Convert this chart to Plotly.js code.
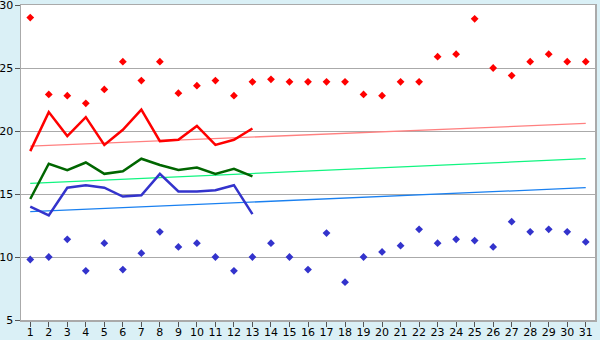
<!DOCTYPE html>
<html>
<head>
<meta charset="utf-8">
<script src="https://cdn.plot.ly/plotly-3.0.1.min.js"></script>
<style>html,body{margin:0;padding:0;background:#daf0f6;}#chart{width:600px;height:340px;}</style>
</head>
<body>
<div id="chart"></div>
<script>
const days = Array.from({length: 31}, (_, i) => i + 1);
const dailyMax = [29.0, 22.9, 22.8, 22.2, 23.3, 25.5, 24.0, 25.5, 23.0, 23.6,
                  24.0, 22.8, 23.9, 24.1, 23.9, 23.9, 23.9, 23.9, 22.9, 22.8,
                  23.9, 23.9, 25.9, 26.1, 28.9, 25.0, 24.4, 25.5, 26.1, 25.5, 25.5];
const dailyMin = [9.8, 10.0, 11.4, 8.9, 11.1, 9.0, 10.3, 12.0, 10.8, 11.1,
                  10.0, 8.9, 10.0, 11.1, 10.0, 9.0, 11.9, 8.0, 10.0, 10.4,
                  10.9, 12.2, 11.1, 11.4, 11.3, 10.8, 12.8, 12.0, 12.2, 12.0, 11.2];
const obsDays = days.slice(0, 13);
const lineMax = [18.4, 21.5, 19.6, 21.1, 18.9, 20.1, 21.7, 19.2, 19.3, 20.4, 18.9, 19.3, 20.2];
const lineMean = [14.6, 17.4, 16.9, 17.5, 16.6, 16.8, 17.8, 17.3, 16.9, 17.1, 16.6, 17.0, 16.4];
const lineMin = [14.0, 13.3, 15.5, 15.7, 15.5, 14.8, 14.9, 16.6, 15.2, 15.2, 15.3, 15.7, 13.4];
const trendDays = [1, 31];
const trendMax = [18.8, 20.6];
const trendMean = [15.85, 17.8];
const trendMin = [13.6, 15.5];
const yTicks = [5, 10, 15, 20, 25, 30];

const traces = [
  {x: trendDays, y: trendMax, mode: 'lines', line: {color: '#ff8080', width: 1.3}, hoverinfo: 'skip'},
  {x: trendDays, y: trendMean, mode: 'lines', line: {color: '#11f580', width: 1.3}, hoverinfo: 'skip'},
  {x: trendDays, y: trendMin, mode: 'lines', line: {color: '#1a80f0', width: 1.3}, hoverinfo: 'skip'},
  {x: days, y: dailyMax, mode: 'markers', marker: {symbol: 'diamond', size: 6, color: '#ff0000'}},
  {x: days, y: dailyMin, mode: 'markers', marker: {symbol: 'diamond', size: 6, color: '#3333cc'}},
  {x: obsDays, y: lineMax, mode: 'lines', line: {color: '#ff0000', width: 2.5}},
  {x: obsDays, y: lineMean, mode: 'lines', line: {color: '#006600', width: 2.5}},
  {x: obsDays, y: lineMin, mode: 'lines', line: {color: '#3333cc', width: 2.5}}
];

const layout = {
  width: 600, height: 340,
  margin: {l: 21, r: 5, t: 5, b: 20, pad: 0},
  paper_bgcolor: '#daf0f6',
  plot_bgcolor: '#ffffff',
  showlegend: false,
  font: {family: 'DejaVu Sans, Verdana, sans-serif', size: 11, color: '#000000'},
  xaxis: {
    range: [0.5, 31.5], tickvals: days, ticktext: days.map(String),
    showgrid: false, zeroline: false,
    showline: true, linecolor: '#aaaaaa', linewidth: 1.5, mirror: true,
    ticks: 'outside', ticklen: 5, tickcolor: '#555555', tickwidth: 1,
    ticklabelstandoff: -4, ticklabeloverflow: 'allow',
    tickfont: {size: 11}
  },
  yaxis: {
    range: [5, 30], tickvals: yTicks, ticktext: yTicks.map(String),
    showgrid: true, gridcolor: '#aaaaaa', gridwidth: 1, zeroline: false,
    showline: true, linecolor: '#aaaaaa', linewidth: 1.5, mirror: true,
    ticks: 'outside', ticklen: 5, tickcolor: '#555555', tickwidth: 1,
    ticklabelstandoff: -1, ticklabeloverflow: 'allow',
    tickfont: {size: 11}
  }
};

Plotly.newPlot('chart', traces, layout, {displayModeBar: false, staticPlot: true});
</script>
</body>
</html>
